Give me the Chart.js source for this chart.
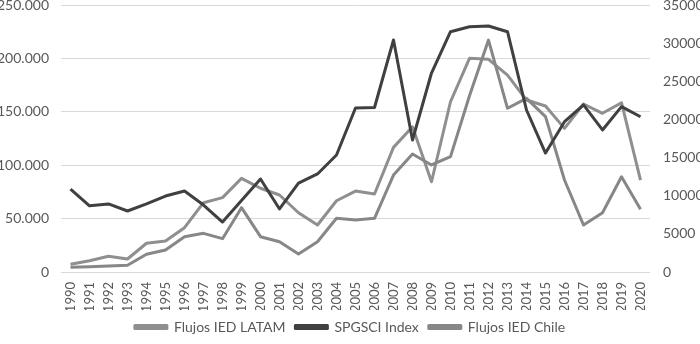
<!DOCTYPE html>
<html>
<head>
<meta charset="utf-8">
<script src="https://cdn.jsdelivr.net/npm/chart.js@4"></script>
<style>
  html, body { margin: 0; padding: 0; background: #fff; }
  #wrap { width: 700px; height: 344px; }
</style>
</head>
<body>
<div id="wrap"><canvas id="fdi_chart"></canvas></div>
<script>
var years = ['1990','1991','1992','1993','1994','1995','1996','1997','1998','1999','2000',
  '2001','2002','2003','2004','2005','2006','2007','2008','2009','2010',
  '2011','2012','2013','2014','2015','2016','2017','2018','2019','2020'];

// left axis
var latam = [7200, 10600, 14700, 12200, 26900, 29000, 41500, 64900, 69600, 87700, 78400,
  72100, 55500, 44000, 66700, 75800, 73000, 116700, 136000, 84500, 159400,
  200100, 199100, 184400, 161000, 155400, 134500, 157300, 148600, 158500, 86100];
var spgsci = [77700, 62000, 63700, 57100, 63700, 71100, 75800, 62700, 46800, 66900, 87100,
  59000, 83300, 91800, 109500, 153500, 154000, 217200, 123600, 186300, 225000,
  229700, 230300, 225000, 151700, 111400, 140700, 156400, 133000, 154800, 145400];
// right axis
var chile = [620, 700, 790, 880, 2320, 2880, 4630, 5070, 4370, 8430, 4630,
  3970, 2360, 3970, 7040, 6820, 7040, 12700, 15470, 14030, 15120,
  23100, 30400, 21460, 22770, 20360, 12060, 6160, 7770, 12490, 8220];

var leftTicks = [0, 50000, 100000, 150000, 200000, 250000];
var rightTicks = [0, 5000, 10000, 15000, 20000, 25000, 30000, 35000];

var textColour = '#595959';
var fontFam = 'Lato, "Open Sans", sans-serif';

// 250000 -> "250.000"
function dotted(v) {
  return String(v).replace(/\B(?=(\d{3})+(?!\d))/g, '.');
}

var ctx = document.getElementById('fdi_chart').getContext('2d');

var myChart = new Chart(ctx, {
  type: 'line',
  data: {
    labels: years,
    datasets: [{
      label: 'Flujos IED LATAM',
      data: latam,
      yAxisID: 'y',
      borderColor: '#8f8f8f',
      backgroundColor: '#8f8f8f',
      order: 3
    }, {
      label: 'SPGSCI Index',
      data: spgsci,
      yAxisID: 'y',
      borderColor: '#404040',
      backgroundColor: '#404040',
      order: 1
    }, {
      label: 'Flujos IED Chile',
      data: chile,
      yAxisID: 'y2',
      borderColor: '#878787',
      backgroundColor: '#878787',
      order: 2
    }]
  },
  options: {
    responsive: true,
    maintainAspectRatio: false,
    animation: false,
    layout: { padding: 0 },
    elements: {
      line: { borderWidth: 3, tension: 0, borderJoinStyle: 'round' },
      point: { radius: 0 }
    },
    scales: {
      x: {
        offset: true,
        grid: { display: false, drawTicks: false },
        border: { display: false },
        afterFit: function (axis) { axis.height = 38; },
        ticks: {
          color: textColour,
          font: { family: fontFam, size: 13 },
          minRotation: 90,
          maxRotation: 90,
          autoSkip: false,
          padding: 10
        }
      },
      y: {
        position: 'left',
        min: 0,
        max: 250000,
        afterBuildTicks: function (axis) {
          axis.ticks = leftTicks.map(function (v) { return { value: v }; });
        },
        afterFit: function (axis) { axis.width = 61; axis.paddingTop = 5; },
        grid: { color: '#d9d9d9', lineWidth: 1, drawTicks: false },
        border: { display: false },
        ticks: {
          color: textColour,
          font: { family: fontFam, size: 14 },
          padding: 12,
          callback: function (v) { return dotted(v); }
        }
      },
      y2: {
        position: 'right',
        min: 0,
        max: 35000,
        afterBuildTicks: function (axis) {
          axis.ticks = rightTicks.map(function (v) { return { value: v }; });
        },
        afterFit: function (axis) { axis.width = 50; axis.paddingTop = 5; },
        grid: { display: false, drawTicks: false },
        border: { display: false },
        ticks: {
          color: textColour,
          font: { family: fontFam, size: 14 },
          padding: 13,
          callback: function (v) { return String(v); }
        }
      }
    },
    plugins: {
      legend: {
        position: 'bottom',
        labels: {
          color: textColour,
          font: { family: fontFam, size: 14 },
          boxWidth: 32,
          boxHeight: 3,
          padding: 10,
          sort: function (a, b) { return a.datasetIndex - b.datasetIndex; }
        }
      },
      tooltip: { enabled: false }
    }
  }
});
</script>
</body>
</html>
